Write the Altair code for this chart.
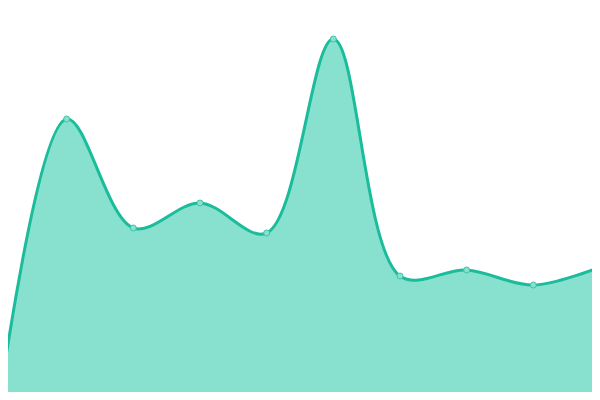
import altair as alt
import pandas as pd

idx = [0, 1, 2, 3, 4, 5, 6, 7, 8, 9]
values = [2, 281, 172, 197, 167, 361, 124, 130, 115, 133]

df = pd.DataFrame({"i": idx, "v": values})

xs = alt.Scale(domain=[0.12, 8.88], nice=False, zero=False)
ys = alt.Scale(domain=[8, 392], nice=False, zero=False)

base = alt.Chart(df).encode(
    x=alt.X("i:Q", scale=xs, axis=None),
    y=alt.Y("v:Q", scale=ys, axis=None),
)

area = base.mark_area(
    interpolate="catmull-rom", color="#88e0cf", opacity=1, clip=True,
    line={"color": "#1abc9c", "strokeWidth": 3},
).encode(y2=alt.datum(0))

pts = base.mark_point(
    filled=True, shape="circle", size=36, fill="#88e0cf",
    stroke="#3cc6a6", strokeWidth=1, opacity=1, clip=True,
)

chart = (area + pts).properties(
    width=584, height=384, padding=0, autosize="none"
).configure_view(stroke=None)

chart.save("out.html", embed_options={"renderer": "svg", "actions": False})
